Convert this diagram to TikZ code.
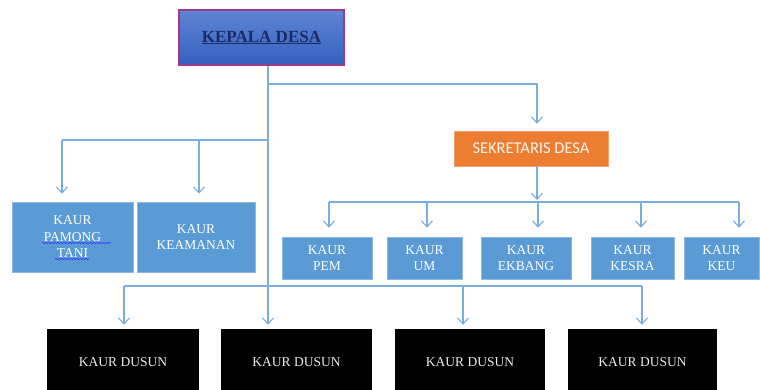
\documentclass[tikz,border=0pt]{standalone}
\usepackage{fontspec}
\setmainfont{Liberation Serif}
\newfontfamily\calib{Carlito}
\usetikzlibrary{arrows.meta,decorations.pathmorphing}
\definecolor{lnk}{HTML}{7AAEE0}
\definecolor{boxblue}{HTML}{5B9BD5}
\definecolor{boxedge}{HTML}{8DB8E2}
\definecolor{orng}{HTML}{ED7D31}
\definecolor{purp}{HTML}{9E3A8E}
\definecolor{navy}{HTML}{1A2A66}
\definecolor{ktop}{HTML}{5E84D4}
\definecolor{kbot}{HTML}{3560BE}
\tikzset{
  ln/.style={draw=lnk, line width=1.2pt},
  arr/.style={ln, -{Straight Barb[length=6pt,width=11pt,line width=1.1pt]}},
  kaur/.style={draw=boxedge, line width=0.6pt, fill=boxblue, text=white, align=center,
    font=\fontsize{13.5}{16.5}\selectfont, inner sep=0pt},
  dusun/.style={fill=black, text=white!85!gray, minimum width=152pt, minimum height=66pt,
    font=\fontsize{13.5}{15}\selectfont, inner sep=0pt},
  wavy/.style={draw=blue!80!white, line width=0.6pt, decorate,
    decoration={snake, amplitude=0.6pt, segment length=3pt}}
}
\begin{document}
\begin{tikzpicture}[x=1pt,y=-1pt]
\useasboundingbox (0,0) rectangle (760,390);
\fill[white] (0,0) rectangle (760,390);

% top
\node[draw=purp, line width=2.4pt, top color=ktop, bottom color=kbot,
  minimum width=165pt, minimum height=55pt, inner sep=0pt,
  font=\bfseries\fontsize{17}{19}\selectfont, text=navy] (kep) at (261.5,37.5) {\underline{KEPALA DESA}};

\node[fill=orng, draw=orng!70!white, line width=0.6pt, minimum width=154pt, minimum height=35pt, inner sep=0pt,
  text=white!92!orng, font=\calib\fontsize{16.5}{18}\selectfont] (sek) at (531,148.5) {SEKRETARIS DESA};

% left branch
\node[kaur, minimum width=121pt, minimum height=70pt] (pam) at (72.5,237) {KAUR\\PAMONG\\TANI};
\node[kaur, minimum width=118pt, minimum height=70pt] (kea) at (196,237) {KAUR\\KEAMANAN};

% sekretaris children
\node[kaur, minimum width=90pt, minimum height=42pt] (pem) at (327,258) {KAUR\\PEM};
\node[kaur, minimum width=75pt, minimum height=42pt] (um) at (424.5,258) {KAUR\\UM};
\node[kaur, minimum width=90pt, minimum height=42pt] (ekb) at (526,258) {KAUR\\EKBANG};
\node[kaur, minimum width=83pt, minimum height=42pt] (kes) at (632.5,258) {KAUR\\KESRA};
\node[kaur, minimum width=75pt, minimum height=42pt] (keu) at (721.5,258) {KAUR\\KEU};

% dusun
\node[dusun] (d1) at (123,362) {KAUR DUSUN};
\node[dusun, minimum width=151pt] (d2) at (296.5,362) {KAUR DUSUN};
\node[dusun, minimum width=150pt] (d3) at (470,362) {KAUR DUSUN};
\node[dusun, minimum width=149pt] (d4) at (642.5,362) {KAUR DUSUN};

% wavy spell-check underlines
\draw[wavy] (42,243) -- (111,243);
\draw[wavy] (55,259) -- (89,259);

% coordinates
\coordinate (tr) at (268,0);
\coordinate (jS) at (268,84);
\coordinate (jL) at (268,140);
\coordinate (jD) at (268,286);
\coordinate (xPam) at (62,0);
\coordinate (xKea) at (199,0);
\coordinate (xSek) at (537,0);
\coordinate (jK) at (537,202);
\coordinate (xPem) at (329,0);
\coordinate (xUm) at (427,0);
\coordinate (xEkb) at (538,0);
\coordinate (xKes) at (641,0);
\coordinate (xKeu) at (739,0);
\coordinate (xD1) at (124,0);
\coordinate (xD3) at (463,0);
\coordinate (xD4) at (642,0);

% trunk
\draw[arr] (kep.south -| tr) -- ([yshift=4pt]d2.north -| tr);
% to sekretaris
\draw[arr] (jS) -| ([yshift=7pt]sek.north -| xSek);
% left branch
\draw[ln] (jL) -- (jL -| xPam);
\draw[arr] (jL -| xPam) -- ([yshift=8pt]pam.north -| xPam);
\draw[arr] (jL -| xKea) -- ([yshift=8pt]kea.north -| xKea);
% sekretaris children
\draw[arr] (sek.south -| xSek) -- ([yshift=2pt]jK);
\draw[ln] (jK -| xPem) -- (jK -| xKeu);
\draw[arr] (jK -| xPem) -- ([yshift=9pt]pem.north -| xPem);
\draw[arr] (jK -| xUm) -- ([yshift=9pt]um.north -| xUm);
\draw[arr] (jK -| xEkb) -- ([yshift=9pt]ekb.north -| xEkb);
\draw[arr] (jK -| xKes) -- ([yshift=9pt]kes.north -| xKes);
\draw[arr] (jK -| xKeu) -- ([yshift=9pt]keu.north -| xKeu);
% dusun
\draw[ln] (jD -| xD1) -- (jD -| xD4);
\draw[arr] (jD -| xD1) -- ([yshift=4pt]d1.north -| xD1);
\draw[arr] (jD -| xD3) -- ([yshift=4pt]d3.north -| xD3);
\draw[arr] (jD -| xD4) -- ([yshift=4pt]d4.north -| xD4);
\end{tikzpicture}
\end{document}
